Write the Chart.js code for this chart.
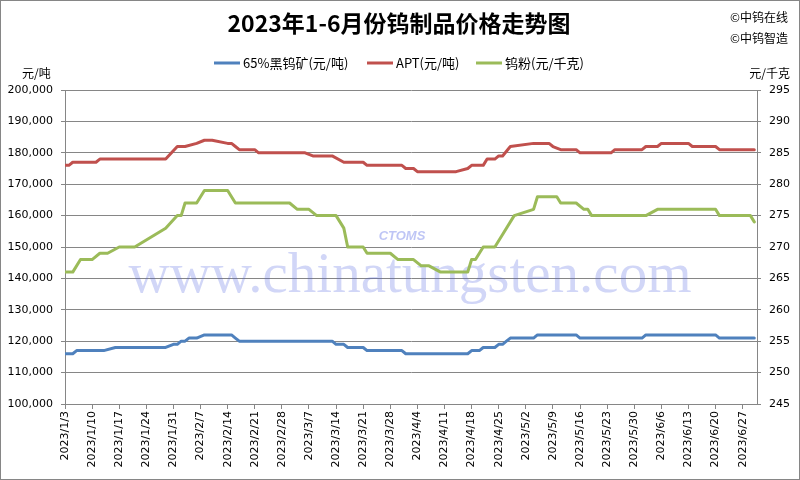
<!DOCTYPE html>
<html>
<head>
<meta charset="utf-8">
<script src="https://cdn.jsdelivr.net/npm/chart.js@4/dist/chart.umd.min.js"></script>
<style>
  body { margin: 0; background: #fff; }
</style>
</head>
<body>
<canvas id="priceChart" width="800" height="480"></canvas>
<script>
// 65%黑钨矿, 元/吨 (left axis)
const blackDates = ['2023/1/3', '2023/1/5', '2023/1/6', '2023/1/13', '2023/1/16', '2023/1/29', '2023/1/31', '2023/2/1',
    '2023/2/2', '2023/2/3', '2023/2/4', '2023/2/6', '2023/2/8', '2023/2/15', '2023/2/16', '2023/2/17', '2023/3/13',
    '2023/3/14', '2023/3/16', '2023/3/17', '2023/3/21', '2023/3/22', '2023/3/31', '2023/4/1', '2023/4/17', '2023/4/18',
    '2023/4/20', '2023/4/21', '2023/4/24', '2023/4/25', '2023/4/26', '2023/4/27', '2023/4/28', '2023/5/4', '2023/5/5',
    '2023/5/15', '2023/5/16', '2023/6/1', '2023/6/2', '2023/6/20', '2023/6/21', '2023/6/30'];
const blackValues = [116000, 116000, 117000, 117000, 118000, 118000, 119000, 119000,
    120000, 120000, 121000, 121000, 122000, 122000, 121000, 120000, 120000,
    119000, 119000, 118000, 118000, 117000, 117000, 116000, 116000, 117000,
    117000, 118000, 118000, 119000, 119000, 120000, 121000, 121000, 122000,
    122000, 121000, 121000, 122000, 122000, 121000, 121000];

// APT, 元/吨 (left axis)
const aptDates = ['2023/1/3', '2023/1/4', '2023/1/5', '2023/1/11', '2023/1/12', '2023/1/29', '2023/2/1', '2023/2/3',
    '2023/2/6', '2023/2/8', '2023/2/10', '2023/2/14', '2023/2/15', '2023/2/16', '2023/2/17', '2023/2/21', '2023/2/22',
    '2023/3/6', '2023/3/8', '2023/3/13', '2023/3/16', '2023/3/21', '2023/3/22', '2023/3/31', '2023/4/1', '2023/4/3',
    '2023/4/4', '2023/4/14', '2023/4/17', '2023/4/18', '2023/4/21', '2023/4/22', '2023/4/24', '2023/4/25', '2023/4/26',
    '2023/4/28', '2023/5/4', '2023/5/8', '2023/5/9', '2023/5/11', '2023/5/15', '2023/5/16', '2023/5/24', '2023/5/25',
    '2023/6/1', '2023/6/2', '2023/6/5', '2023/6/6', '2023/6/13', '2023/6/14', '2023/6/20', '2023/6/21', '2023/6/30'];
const aptValues = [176000, 176000, 177000, 177000, 178000, 178000, 182000, 182000,
    183000, 184000, 184000, 183000, 183000, 182000, 181000, 181000, 180000,
    180000, 179000, 179000, 177000, 177000, 176000, 176000, 175000, 175000,
    174000, 174000, 175000, 176000, 176000, 178000, 178000, 179000, 179000,
    182000, 183000, 183000, 182000, 181000, 181000, 180000, 180000, 181000,
    181000, 182000, 182000, 183000, 183000, 182000, 182000, 181000, 181000];

// 钨粉, 元/千克 (right axis)
const powderDates = ['2023/1/3', '2023/1/5', '2023/1/7', '2023/1/10', '2023/1/12', '2023/1/14', '2023/1/17', '2023/1/21',
    '2023/1/29', '2023/2/1', '2023/2/2', '2023/2/3', '2023/2/6', '2023/2/8', '2023/2/14', '2023/2/16', '2023/3/2',
    '2023/3/4', '2023/3/7', '2023/3/9', '2023/3/14', '2023/3/16', '2023/3/17', '2023/3/21', '2023/3/22', '2023/3/28',
    '2023/3/30', '2023/4/3', '2023/4/5', '2023/4/7', '2023/4/10', '2023/4/17', '2023/4/18', '2023/4/19', '2023/4/21',
    '2023/4/24', '2023/4/26', '2023/4/29', '2023/5/4', '2023/5/5', '2023/5/10', '2023/5/11', '2023/5/15', '2023/5/17',
    '2023/5/18', '2023/5/19', '2023/6/2', '2023/6/5', '2023/6/20', '2023/6/21', '2023/6/29', '2023/6/30'];
const powderValues = [266, 266, 268, 268, 269, 269, 270, 270,
    273, 275, 275, 277, 277, 279, 279, 277, 277,
    276, 276, 275, 275, 273, 270, 270, 269, 269,
    268, 268, 267, 267, 266, 266, 268, 268, 270,
    270, 272, 275, 276, 278, 278, 277, 277, 276,
    276, 275, 275, 276, 276, 275, 275, 274];

const seriesNames = ['65%黑钨矿(元/吨)', 'APT(元/吨)', '钨粉(元/千克)'];
const seriesColors = ['#4F81BD', '#C0504D', '#9BBB59'];

const startUTC = Date.UTC(2023, 0, 3);
const DAY = 86400000;

function dayIndex(s) {
    const p = s.split('/').map(Number);
    return (Date.UTC(p[0], p[1] - 1, p[2]) - startUTC) / DAY;
}

function toPoints(dates, values) {
    return dates.map((d, i) => ({ x: dayIndex(d), y: values[i] }));
}

function dateLabel(v) {
    const d = new Date(startUTC + v * DAY);
    return d.getUTCFullYear() + '/' + (d.getUTCMonth() + 1) + '/' + d.getUTCDate();
}

const gridColor = '#868686';
const tickFont = { family: 'DejaVu Sans', size: 11 };
const cjk = '"Noto Sans CJK SC", sans-serif';

// title, legend, units and the watermark
const decorations = {
    id: 'decorations',
    beforeDraw(chart) {
        const c = chart.ctx;
        c.save();
        c.fillStyle = '#fff';
        c.fillRect(0, 0, chart.width, chart.height);
        c.restore();
    },
    beforeDatasetsDraw(chart) {
        const c = chart.ctx;
        c.save();
        c.fillStyle = 'rgba(70, 90, 225, 0.25)';
        c.font = '57px "Liberation Serif"';
        c.textAlign = 'center';
        c.textBaseline = 'alphabetic';
        c.fillText('www.chinatungsten.com', 410, 292);
        c.font = 'italic bold 13px "Liberation Sans"';
        c.fillStyle = 'rgba(70, 90, 225, 0.35)';
        c.fillText('CTOMS', 402, 240);
        c.restore();
    },
    afterDraw(chart) {
        const c = chart.ctx;
        c.save();
        c.fillStyle = '#000';
        c.textBaseline = 'middle';

        c.font = 'bold 23px ' + cjk;
        c.textAlign = 'center';
        c.fillText('2023年1-6月份钨制品价格走势图', 399, 23);

        c.font = '12px ' + cjk;
        c.textAlign = 'right';
        c.fillText('©中钨在线', 788, 17);
        c.fillText('©中钨智造', 788, 38);
        c.fillText('元/千克', 790, 73);
        c.textAlign = 'left';
        c.fillText('元/吨', 22, 73);

        // legend
        const legendX = [214, 367, 476];
        c.font = '13px ' + cjk;
        chart.data.datasets.forEach((ds, i) => {
            c.strokeStyle = ds.borderColor;
            c.lineWidth = 3;
            c.beginPath();
            c.moveTo(legendX[i], 63);
            c.lineTo(legendX[i] + 26, 63);
            c.stroke();
            c.fillStyle = '#000';
            c.fillText(ds.label, legendX[i] + 29, 63);
        });

        c.strokeStyle = gridColor;
        c.lineWidth = 1;
        c.strokeRect(0.5, 0.5, chart.width - 1, chart.height - 1);
        c.restore();
    }
};

const ctx = document.getElementById('priceChart').getContext('2d');
const priceChart = new Chart(ctx, {
    type: 'line',
    data: {
        datasets: [
            { label: seriesNames[0], data: toPoints(blackDates, blackValues), borderColor: seriesColors[0], yAxisID: 'y' },
            { label: seriesNames[1], data: toPoints(aptDates, aptValues), borderColor: seriesColors[1], yAxisID: 'y' },
            { label: seriesNames[2], data: toPoints(powderDates, powderValues), borderColor: seriesColors[2], yAxisID: 'y1' }
        ]
    },
    options: {
        responsive: false,
        animation: false,
        events: [],
        elements: {
            line: { borderWidth: 3, tension: 0, borderJoinStyle: 'round', borderCapStyle: 'round', fill: false },
            point: { radius: 0 }
        },
        layout: { padding: { top: 90, left: 0, right: 0, bottom: 0 } },
        plugins: {
            legend: { display: false },
            title: { display: false },
            tooltip: { enabled: false }
        },
        scales: {
            x: {
                type: 'linear',
                min: 0,
                max: 178.7,
                afterFit: (s) => { s.height = 76; },
                grid: { drawOnChartArea: false, drawTicks: true, tickLength: 5, color: gridColor },
                border: { color: gridColor },
                ticks: {
                    stepSize: 7,
                    includeBounds: false,
                    autoSkip: false,
                    minRotation: 90,
                    maxRotation: 90,
                    padding: 2,
                    color: '#000',
                    font: tickFont,
                    callback: (v) => dateLabel(v)
                }
            },
            y: {
                position: 'left',
                min: 100000,
                max: 200000,
                afterFit: (s) => { s.width = 65; },
                grid: { color: gridColor, tickLength: 4 },
                border: { color: gridColor },
                ticks: {
                    stepSize: 10000,
                    padding: 8,
                    color: '#000',
                    font: tickFont,
                    callback: (v) => v.toLocaleString('en-US')
                }
            },
            y1: {
                position: 'right',
                min: 245,
                max: 295,
                afterFit: (s) => { s.width = 43; },
                grid: { drawOnChartArea: false, tickLength: 4, color: gridColor },
                border: { color: gridColor },
                ticks: { stepSize: 5, padding: 8, color: '#000', font: tickFont }
            }
        }
    },
    plugins: [decorations]
});
</script>
</body>
</html>
